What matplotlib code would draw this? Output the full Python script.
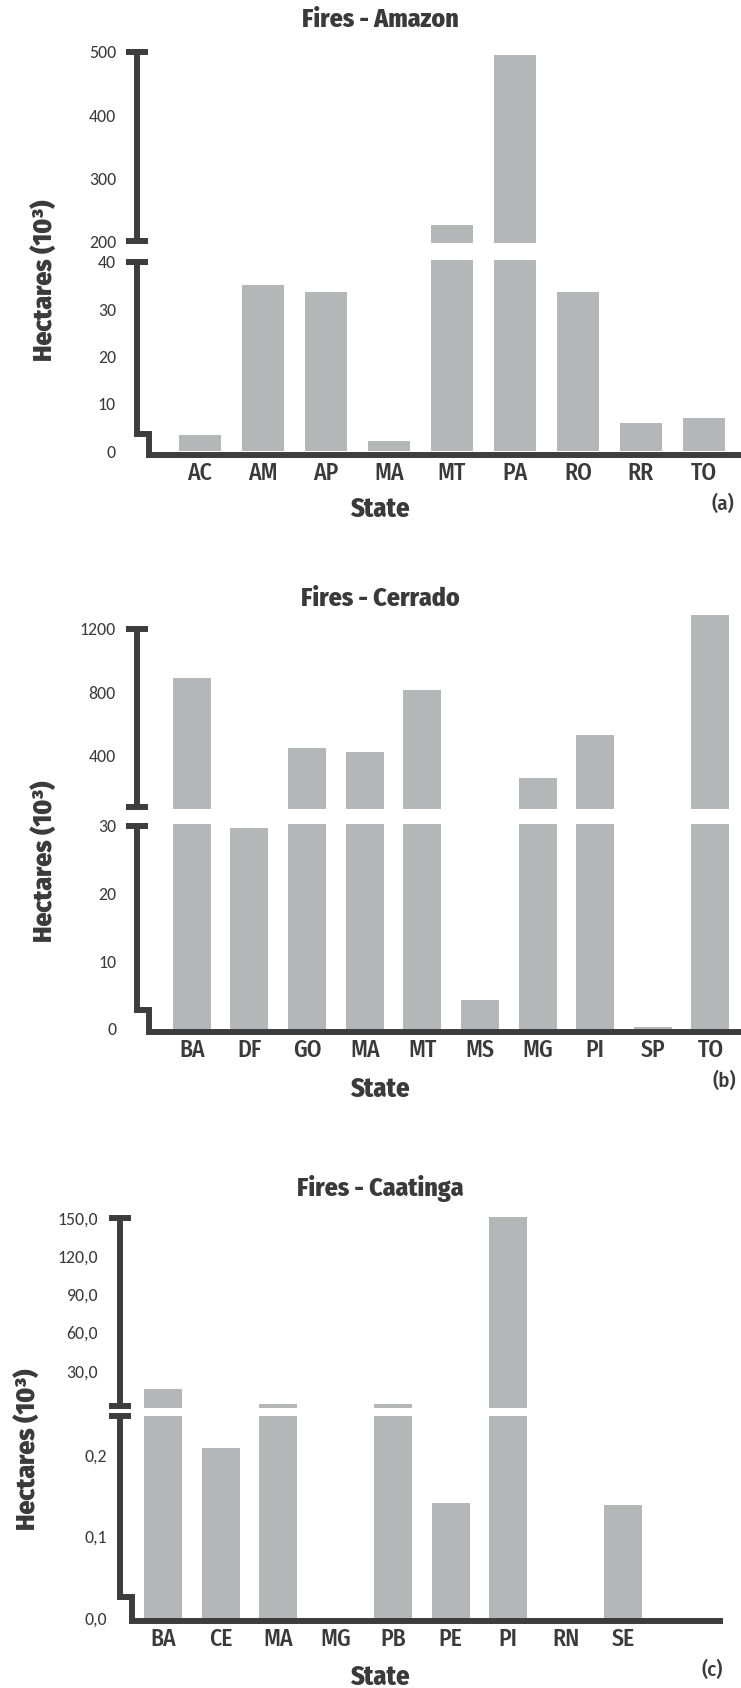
import matplotlib
matplotlib.use("Agg")
import matplotlib.pyplot as plt

# Data (hectares, 10^3)

amazon_states = ["AC", "AM", "AP", "MA", "MT", "PA", "RO", "RR", "TO"]
amazon_values = [3.4, 35.2, 33.7, 2.1, 225, 495, 33.7, 5.9, 7.0]

cerrado_states = ["BA", "DF", "GO", "MA", "MT", "MS", "MG", "PI", "SP", "TO"]
cerrado_values = [890, 29.7, 449, 423, 815, 4.2, 259, 531, 0.3, 1288]

caatinga_states = ["BA", "CE", "MA", "MG", "PB", "PE", "PI", "RN", "SE"]
caatinga_values = [15.4, 0.2086, 3.7, 0, 3.7, 0.141, 151, 0, 0.1387]

# Tick values / labels

amazon_upper_ticks = [200, 300, 400, 500]
amazon_lower_ticks = [0, 10, 20, 30, 40]
cerrado_upper_ticks = [400, 800, 1200]
cerrado_lower_ticks = [0, 10, 20, 30]
caatinga_upper_ticks = [30, 60, 90, 120, 150]
caatinga_upper_labels = ["30,0", "60,0", "90,0", "120,0", "150,0"]
caatinga_lower_ticks = [0, 0.1, 0.2]
caatinga_lower_labels = ["0,0", "0,1", "0,2"]

# Style

W, H = 741, 1688
BAR_COL = "#b5b6b8"
AX_COL = "#3d3d3d"
TXT_COL = "#3a3a3a"
LW = 4.3            # ~6 px
COND = ["Fira Sans Condensed", "Roboto Condensed", "DejaVu Sans"]
NUMS = ["Carlito", "Lato", "DejaVu Sans"]
HEAVY = ["Fira Sans", "Open Sans", "DejaVu Sans"]

fig = plt.figure(figsize=(W / 100, H / 100), dpi=100)


def box(x0, x1, ytop, ybot):
    return [x0 / W, 1 - ybot / H, (x1 - x0) / W, (ybot - ytop) / H]


def ftext(x, y, s, **kw):
    fig.text(x / W, 1 - y / H, s, ha="center", va="center", color=TXT_COL, **kw)


def clean(ax):
    for s in ax.spines.values():
        s.set_visible(False)
    ax.set_facecolor("none")


def draw_panel(states, values, p):
    x = list(range(len(states)))
    width_px = p["x1"] - p["x0"]

    # upper part of the broken axis
    up = fig.add_axes(box(p["x0"], p["x1"], *p["up_px"]))
    clean(up)
    up.bar(x, values, width=0.66, color=BAR_COL)
    up.set_xlim(*p["xlim"])
    up.set_ylim(*p["up_lim"])
    up.set_xticks([])
    up.set_yticks(p["up_ticks"], labels=p["up_labels"], family=NUMS,
                  fontsize=12.8, color=TXT_COL)
    up.tick_params(axis="y", length=0, pad=p["up_pad"] * 0.72)
    tr = up.get_yaxis_transform()
    lo, hi = p["up_caps"]
    up.plot([0, 0], [lo, hi], color=AX_COL, lw=LW, transform=tr,
            clip_on=False, solid_capstyle="butt")
    up.plot([0, 0], [lo, hi], ls="none", marker="_", ms=16, mew=LW,
            color=AX_COL, transform=tr, clip_on=False)

    # lower part
    low = fig.add_axes(box(p["x0"], p["x1"], *p["low_px"]))
    clean(low)
    low.bar(x, values, width=0.66, color=BAR_COL)
    low.set_xlim(*p["xlim"])
    low.set_ylim(*p["low_lim"])
    low.set_yticks(p["low_ticks"], labels=p["low_labels"], family=NUMS,
                   fontsize=12.8, color=TXT_COL)
    low.tick_params(axis="y", length=0, pad=p["low_pad"] * 0.72)
    low.set_xticks(x, labels=states, family=COND, fontsize=17,
                   fontweight=500, color=TXT_COL)
    low.tick_params(axis="x", length=0, pad=5)

    tr = low.get_yaxis_transform()
    dx = 12 / width_px
    base = p["low_lim"][0]
    top = p["low_cap"]
    n = p["notch"]
    low.plot([0, 0, dx, dx, 1], [top, n, n, base, base], color=AX_COL,
             lw=LW, transform=tr, clip_on=False, solid_joinstyle="miter",
             solid_capstyle="butt")
    low.plot([0], [top], ls="none", marker="_", ms=16, mew=LW,
             color=AX_COL, transform=tr, clip_on=False)

    # texts
    ftext(380, p["title_y"], p["title"], family=COND, fontsize=18.5,
          fontweight=800)
    ftext(380, p["state_y"], "State", family=COND, fontsize=19,
          fontweight=800)
    ftext(p["tag_xy"][0], p["tag_xy"][1], p["tag"], family=COND,
          fontsize=15, fontweight=500)
    ftext(p["ylab_xy"][0], p["ylab_xy"][1], "Hectares (10³)", family=HEAVY,
          fontsize=18, fontweight=900, rotation=90)


# ==========================================================
# (a) Amazon
# ==========================================================

draw_panel(amazon_states, amazon_values, dict(
    x0=137, x1=741, xlim=(-1.0, 8.59),
    up_px=(52, 242.9), up_lim=(197, 500), up_caps=(200, 500),
    up_ticks=amazon_upper_ticks, up_labels=[str(v) for v in amazon_upper_ticks],
    up_pad=21,
    low_px=(260.1, 454.8), low_lim=(-0.8, 40.4), low_cap=40, notch=3.6,
    low_ticks=amazon_lower_ticks, low_labels=[str(v) for v in amazon_lower_ticks],
    low_pad=21,
    title="Fires - Amazon", title_y=20, state_y=509,
    tag="(a)", tag_xy=(723, 504), ylab_xy=(45, 280),
))

# ==========================================================
# (b) Cerrado
# ==========================================================

draw_panel(cerrado_states, cerrado_values, dict(
    x0=136.7, x1=741, xlim=(-0.957, 9.53),
    up_px=(614.7, 808.8), up_lim=(65, 1290), up_caps=(78, 1200),
    up_ticks=cerrado_upper_ticks, up_labels=[str(v) for v in cerrado_upper_ticks],
    up_pad=21,
    low_px=(824.2, 1032.3), low_lim=(-0.49, 30.2), low_cap=30, notch=2.85,
    low_ticks=cerrado_lower_ticks, low_labels=[str(v) for v in cerrado_lower_ticks],
    low_pad=20,
    title="Fires - Cerrado", title_y=599, state_y=1089,
    tag="(b)", tag_xy=(724, 1081), ylab_xy=(45, 861),
))

# ==========================================================
# (c) Caatinga
# ==========================================================

draw_panel(caatinga_states, caatinga_values, dict(
    x0=120.3, x1=723.3, xlim=(-0.743, 9.74),
    up_px=(1217, 1408), up_lim=(0.6, 151), up_caps=(2.0, 150),
    up_ticks=caatinga_upper_ticks, up_labels=caatinga_upper_labels,
    up_pad=22,
    low_px=(1415.5, 1621), low_lim=(-0.0037, 0.2485), low_cap=0.248, notch=0.0255,
    low_ticks=caatinga_lower_ticks, low_labels=caatinga_lower_labels,
    low_pad=13,
    title="Fires - Caatinga", title_y=1189, state_y=1677,
    tag="(c)", tag_xy=(712, 1670), ylab_xy=(28.5, 1449),
))

fig.savefig("out.png", dpi=100)
